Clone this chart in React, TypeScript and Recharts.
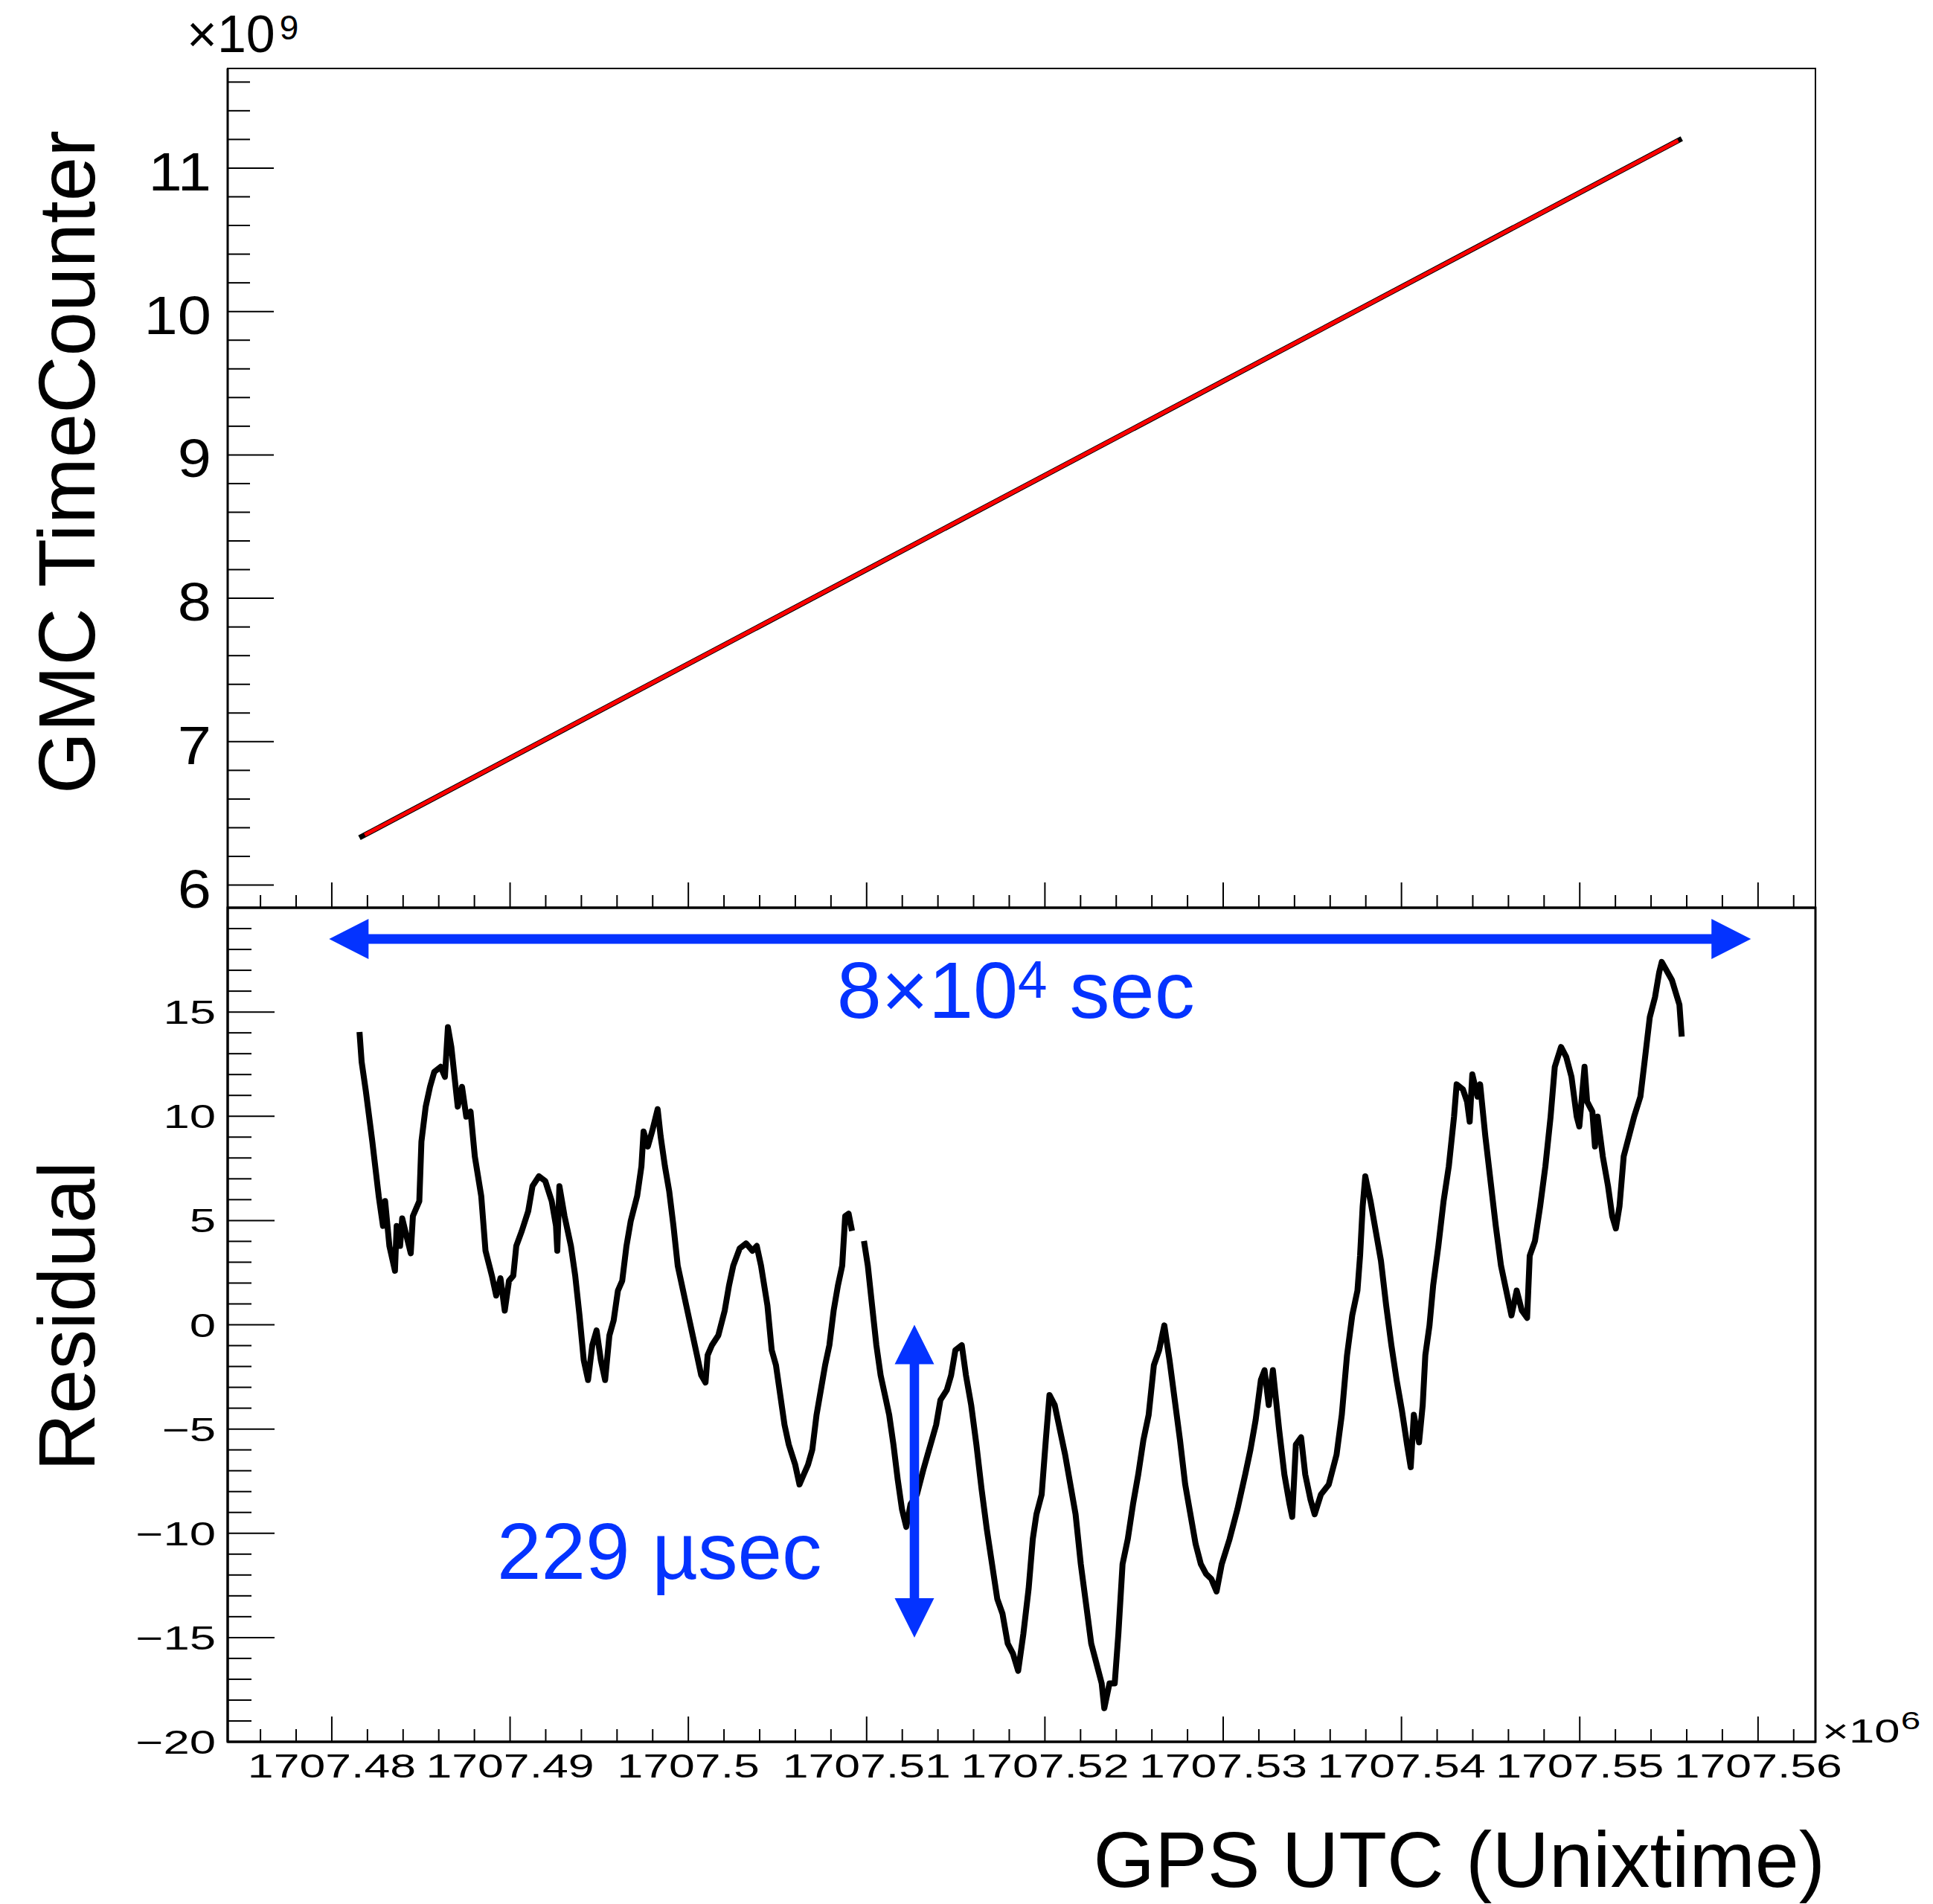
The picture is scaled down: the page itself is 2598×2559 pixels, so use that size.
// GMC TimeCounter vs GPS UTC の上下2段グラフ (Recharts)
import React from 'react';
import { LineChart, Line, XAxis, YAxis, ReferenceArea, ReferenceLine } from 'recharts';

const W = 2598;
const H = 2559;
const FONT = '"Liberation Sans", Arial, Helvetica, sans-serif';
const BLUE = '#0433ff';

// 時刻の基準 (Unixtime, 秒)
const T0 = 1707480000;

// 上段: カウンタ値 (黒) とフィット直線 (赤)
const counterSec = [1550, 75720];
const counterVal = [6.33e9, 11.205e9];
const fitSec = [1850, 75520];
const fitVal = [6.35e9, 11.192e9];

// 下段: 残差 (null はデータの欠け)
const residualSec = [
  1554, 1674, 1914, 2273, 2632, 2872, 2992, 3231, 3543, 3639, 3830, 3950, 4190, 4429, 4549, 4909,
  5028, 5268, 5508, 5747, 6107, 6346, 6514, 6706, 7065, 7305, 7544, 7784, 8023, 8383, 8622, 8982,
  9221, 9461, 9701, 9940, 10180, 10348, 10659, 11018, 11258, 11617, 11977, 12336, 12576, 12648,
  12767, 13055, 13414, 13654, 13894, 14133, 14373, 14612, 14852, 15092, 15331, 15571, 15810, 16050,
  16290, 16529, 16769, 17128, 17368, 17488, 17727, 17967, 18278, 18446, 18686, 18925, 19165, 19404,
  19644, 19884, 20123, 20483, 20722, 20962, 21082, 21321, 21681, 22040, 22280, 22519, 22879, 23238,
  23597, 23837, 24077, 24436, 24676, 24915, 25155, 25394, 25634, 25993, 26233, 26473, 26712, 26952,
  27191, 27431, 27671, 27910, 28150, 28389, 28629, 28797, 28988, 29180, 29500, 29851, 30067, 30306,
  30546, 30785, 31025, 31265, 31504, 31744, 31983, 32223, 32463, 32822, 33181, 33421, 33661, 33900,
  34140, 34499, 34739, 34978, 35338, 35571, 35864, 36157, 36450, 36742, 37035, 37328, 37621, 37914,
  38206, 38499, 38792, 39085, 39319, 39524, 39817, 40051, 40256, 40549, 40842, 41134, 41427, 41720,
  42013, 42306, 42598, 42891, 43184, 43330, 43623, 43916, 44121, 44355, 44648, 44941, 45234, 45526,
  45819, 46112, 46405, 46698, 46990, 47283, 47576, 47869, 48162, 48454, 48747, 49040, 49333, 49626,
  49918, 50358, 50797, 51236, 51529, 51822, 52114, 52319, 52554, 52788, 53139, 53432, 53725, 53871,
  54076, 54369, 54603, 54896, 55130, 55482, 55921, 56360, 56653, 56946, 57238, 57531, 57678, 57824,
  57970, 58263, 58556, 58849, 59142, 59434, 59727, 60020, 60313, 60518, 60693, 60986, 61191, 61338,
  61572, 61777, 62070, 62362, 62655, 62948, 63094, 63446, 63680, 63826, 63973, 64266, 64412, 64705,
  64998, 65290, 65583, 65876, 66169, 66462, 66754, 67047, 67194, 67487, 67779, 68072, 68365, 68599,
  68950, 69243, 69536, 69829, 69975, 70268, 70414, 70707, 70854, 71000, 71293, 71586, 71820, 72025,
  72230, 72464, 72757, 73050, 73401, 73635, 73928, 74221, 74455, 74600, 75170, 75590, 75720,
];
const residualVal: (number | null)[] = [
  14.04, 12.61, 11.18, 8.79, 6.17, 4.74, 5.93, 3.78, 2.59, 4.74, 3.78, 5.1, 4.26, 3.43, 5.21, 5.93,
  8.79, 10.46, 11.41, 12.13, 12.37, 11.89, 14.27, 13.32, 10.46, 11.41, 9.98, 10.22, 8.07, 6.17, 3.55, 2.35,
  1.4, 2.23, 0.68, 2.11, 2.35, 3.78, 4.5, 5.45, 6.65, 7.12, 6.89, 5.93, 4.74, 3.55,
  6.65, 5.21, 3.78, 2.35, 0.45, -1.7, -2.65, -0.98, -0.27, -1.7, -2.65, -0.51, 0.21, 1.64,
  2.11, 3.78, 4.98, 6.17, 7.6, 9.27, 8.55, 9.27, 10.34, 9.03, 7.6, 6.41, 4.74, 2.83,
  1.88, 0.92, -0.03, -1.46, -2.42, -2.77, -1.46, -0.98, -0.51, 0.68, 1.88, 2.83, 3.66, 3.9,
  3.55, 3.78, 2.83, 0.92, -1.22, -1.94, -3.37, -4.8, -5.75, -6.71, -7.66, -7.18, -6.71, -5.99,
  -4.32, -3.13, -1.94, -0.98, 0.68, 1.88, 2.83, 5.21, 5.33, 4.5, null, 4.02, 2.83, 0.92,
  -0.98, -2.42, -3.37, -4.32, -5.75, -7.42, -8.85, -9.69, -8.61, -8.14, -6.95, -6.23, -5.52, -4.8,
  -3.61, -3.13, -2.42, -1.22, -0.98, -2.42, -3.85, -5.75, -7.9, -9.81, -11.48, -13.15, -13.86, -15.29,
  -15.77, -16.6, -14.82, -12.67, -10.28, -9.09, -8.14, -5.52, -3.37, -3.85, -5.04, -6.23, -7.66, -9.09,
  -11.48, -13.38, -15.29, -16.24, -17.2, -18.39, -17.2, -17.2, -14.82, -11.48, -10.28, -8.61, -7.18, -5.52,
  -4.32, -1.94, -1.22, -0.03, -1.7, -3.61, -5.52, -7.66, -9.09, -10.52, -11.48, -11.95, -12.19, -12.79,
  -11.48, -10.28, -8.85, -7.18, -5.99, -4.56, -2.65, -2.18, -3.85, -2.18, -5.04, -7.18, -8.61, -9.21,
  -5.75, -5.4, -7.18, -8.38, -9.09, -8.14, -7.66, -6.23, -4.32, -1.46, 0.45, 1.64, 3.31, 5.69,
  7.12, 5.93, 4.5, 3.07, 0.92, -0.98, -2.65, -4.08, -5.75, -6.83, -4.32, -5.64, -3.85, -1.46,
  -0.03, 1.88, 3.78, 5.93, 7.6, 9.98, 11.53, 11.29, 10.7, 9.74, 12.01, 10.94, 11.53, 9.03,
  6.88, 4.74, 2.83, 1.64, 0.45, 1.64, 0.68, 0.33, 3.31, 4.02, 5.69, 7.6, 9.98, 12.37,
  13.32, 12.84, 11.89, 9.98, 9.51, 12.37, 10.7, 10.22, 8.55, 9.98, 8.07, 6.65, 5.21, 4.62,
  5.69, 8.07, 9.03, 9.98, 10.94, 12.61, 14.75, 15.71, 16.9, 17.4, 16.53, 15.35, 13.82,
];

// 注釈の矢印 (8×10^4 sec と 229 µsec)
const spanArrowSec = [-150, 79600];
const spanArrowVal = 18.5;
const jitterArrowSec = 32680;
const jitterArrowVal = [0, -15];

// 軸の範囲と目盛り
const xDomain = [1707474160, 1707563220];
const topYDomain = [5.842e9, 11.695e9];
const botYDomain = [-20, 20];

const xMajorTicks = [
  1707480000, 1707490000, 1707500000, 1707510000, 1707520000,
  1707530000, 1707540000, 1707550000, 1707560000,
];
const xTickLabels = [
  '1707.48', '1707.49', '1707.5', '1707.51', '1707.52',
  '1707.53', '1707.54', '1707.55', '1707.56',
];
const topYMajorTicks = [6e9, 7e9, 8e9, 9e9, 10e9, 11e9];
const topYTickLabels = ['6', '7', '8', '9', '10', '11'];
const botYMajorTicks = [-20, -15, -10, -5, 0, 5, 10, 15];
const botYTickLabels = ['\u221220', '\u221215', '\u221210', '\u22125', '0', '5', '10', '15'];

// 副目盛り (主目盛りの間を5分割)
const xMinorTicks: number[] = [];
for (let t = 1707476000; t <= 1707562000; t += 2000) {
  if (!xMajorTicks.includes(t)) xMinorTicks.push(t);
}
const topYMinorTicks: number[] = [];
for (let k = 31; k <= 58; k++) {
  if (k % 5 !== 0) topYMinorTicks.push(k * 0.2e9);
}
const botYMinorTicks: number[] = [];
for (let k = -19; k <= 19; k++) {
  if (k % 5 !== 0) botYMinorTicks.push(k);
}

const counterData = counterSec.map((s, i) => ({ t: T0 + s, v: counterVal[i] }));
const fitData = fitSec.map((s, i) => ({ t: T0 + s, v: fitVal[i] }));
const residualData = residualSec.map((s, i) => ({ t: T0 + s, v: residualVal[i] }));

// x軸の目盛り (内向き) とラベル
const makeXTick = (showLabel: boolean) => (props: any) => {
  const { x, y, payload } = props;
  const idx = xMajorTicks.indexOf(payload.value);
  const len = idx >= 0 ? 34 : 17;
  return (
    <g>
      <line x1={x} y1={y} x2={x} y2={y - len} stroke="#000" strokeWidth={2} />
      {showLabel && idx >= 0 && (
        <text
          transform={`translate(${x},${y + 48}) scale(1.4,1)`}
          textAnchor="middle"
          fontSize={44.7}
          fontFamily={FONT}
          fill="#000"
        >
          {xTickLabels[idx]}
        </text>
      )}
    </g>
  );
};

// y軸の目盛り (内向き) とラベル
const makeYTick = (
  majors: number[], labels: string[], majorLen: number, minorLen: number,
  fontSize: number, scaleX: number, gap: number, dy: number,
) => (props: any) => {
  const { x, y, payload } = props;
  const idx = majors.indexOf(payload.value);
  const len = idx >= 0 ? majorLen : minorLen;
  return (
    <g>
      <line x1={x} y1={y} x2={x + len} y2={y} stroke="#000" strokeWidth={2} />
      {idx >= 0 && (
        <text
          transform={`translate(${x - gap},${y + dy}) scale(${scaleX},1)`}
          textAnchor="end"
          fontSize={fontSize}
          fontFamily={FONT}
          fill="#000"
        >
          {labels[idx]}
        </text>
      )}
    </g>
  );
};

// 両矢印の多角形
function arrowPoints(x1: number, y1: number, x2: number, y2: number, head: number, headW: number, shaft: number) {
  const L = Math.hypot(x2 - x1, y2 - y1);
  const ux = (x2 - x1) / L;
  const uy = (y2 - y1) / L;
  const nx = -uy;
  const ny = ux;
  const p = (bx: number, by: number, a: number, b: number) => [bx + ux * a + nx * b, by + uy * a + ny * b];
  const pts = [
    [x1, y1],
    p(x1, y1, head, headW / 2),
    p(x1, y1, head, shaft / 2),
    p(x2, y2, -head, shaft / 2),
    p(x2, y2, -head, headW / 2),
    [x2, y2],
    p(x2, y2, -head, -headW / 2),
    p(x2, y2, -head, -shaft / 2),
    p(x1, y1, head, -shaft / 2),
    p(x1, y1, head, -headW / 2),
  ];
  return pts.map((q) => q.join(',')).join(' ');
}

const SpanArrow = (props: any) => {
  const { x1, y1, x2, y2 } = props;
  const mid = (x1 + x2) / 2;
  return (
    <g>
      <polygon points={arrowPoints(x1, y1, x2, y2, 53, 54, 13)} fill={BLUE} />
      <text x={mid - 273} y={y1 + 106} fontSize={108} fontFamily={FONT} fill={BLUE}>
        8×10
        <tspan fontSize={71} dy={-27}>4</tspan>
        <tspan fontSize={108} dy={27}> sec</tspan>
      </text>
    </g>
  );
};

const JitterArrow = (props: any) => {
  const { x1, y1, x2, y2 } = props;
  const mid = (y1 + y2) / 2;
  return (
    <g>
      <polygon points={arrowPoints(x1, y1, x2, y2, 53, 53, 12.6)} fill={BLUE} />
      <text x={x1 - 561} y={mid + 131} fontSize={107} fontFamily={FONT} fill={BLUE}>
        229 µsec
      </text>
    </g>
  );
};

const axisLineStyle = { stroke: '#000', strokeWidth: 3 };

export default function App() {
  return (
    <div style={{ position: 'absolute', left: 0, top: 0, width: W, height: H, background: '#fff' }}>
      {/* 上段: GMC TimeCounter */}
      <div style={{ position: 'absolute', left: 0, top: 0 }}>
        <LineChart width={W} height={H} margin={{ top: 92, right: 158, bottom: H - 1221, left: 305 }}>
          <ReferenceArea
            x1={xDomain[0]} x2={xDomain[1]} y1={topYDomain[0]} y2={topYDomain[1]}
            fill="none" fillOpacity={0} stroke="#000" strokeWidth={2} ifOverflow="visible"
          />
          <XAxis
            dataKey="t" type="number" domain={xDomain} allowDataOverflow
            ticks={[...xMajorTicks, ...xMinorTicks]} interval={0}
            height={1} tickSize={0} tickMargin={0} tickLine={false}
            axisLine={axisLineStyle}
            tick={makeXTick(false)}
          />
          <YAxis
            dataKey="v" type="number" domain={topYDomain} allowDataOverflow
            ticks={[...topYMajorTicks, ...topYMinorTicks]} interval={0}
            width={1} tickSize={0} tickMargin={0} tickLine={false}
            axisLine={axisLineStyle}
            tick={makeYTick(topYMajorTicks, topYTickLabels, 62, 30, 72.6, 1.12, 22, 30)}
          />
          <Line
            data={counterData} dataKey="v" type="linear" stroke="#000" strokeWidth={7}
            dot={false} activeDot={false} isAnimationActive={false}
          />
          <Line
            data={fitData} dataKey="v" type="linear" stroke="#ff0000" strokeWidth={5}
            dot={false} activeDot={false} isAnimationActive={false}
          />
        </LineChart>
      </div>

      {/* 下段: Residual */}
      <div style={{ position: 'absolute', left: 0, top: 0 }}>
        <LineChart width={W} height={H} margin={{ top: 1220, right: 158, bottom: H - 2342, left: 305 }}>
          <ReferenceArea
            x1={xDomain[0]} x2={xDomain[1]} y1={botYDomain[0]} y2={botYDomain[1]}
            fill="none" fillOpacity={0} stroke="#000" strokeWidth={3} ifOverflow="visible"
          />
          <XAxis
            dataKey="t" type="number" domain={xDomain} allowDataOverflow
            ticks={[...xMajorTicks, ...xMinorTicks]} interval={0}
            height={1} tickSize={0} tickMargin={0} tickLine={false}
            axisLine={axisLineStyle}
            tick={makeXTick(true)}
          />
          <YAxis
            dataKey="v" type="number" domain={botYDomain} allowDataOverflow
            ticks={[...botYMajorTicks, ...botYMinorTicks]} interval={0}
            width={1} tickSize={0} tickMargin={0} tickLine={false}
            axisLine={axisLineStyle}
            tick={makeYTick(botYMajorTicks, botYTickLabels, 63, 32, 44.7, 1.42, 16, 16)}
          />
          <Line
            data={residualData} dataKey="v" type="linear" stroke="#000" strokeWidth={8}
            strokeLinejoin="round" dot={false} activeDot={false} isAnimationActive={false}
          />
          <ReferenceLine
            segment={[{ x: T0 + spanArrowSec[0], y: spanArrowVal }, { x: T0 + spanArrowSec[1], y: spanArrowVal }]}
            shape={SpanArrow} ifOverflow="visible"
          />
          <ReferenceLine
            segment={[{ x: T0 + jitterArrowSec, y: jitterArrowVal[0] }, { x: T0 + jitterArrowSec, y: jitterArrowVal[1] }]}
            shape={JitterArrow} ifOverflow="visible"
          />
        </LineChart>
      </div>

      {/* 軸タイトルと指数表記 */}
      <svg width={W} height={H} style={{ position: 'absolute', left: 0, top: 0, pointerEvents: 'none' }}>
        <text x={251} y={70} fontSize={70} fontFamily={FONT} fill="#000">
          ×10
          <tspan fontSize={46} dx={6} dy={-17}>9</tspan>
        </text>
        <text transform="translate(2449,2342) scale(1.4,1)" fontSize={44} fontFamily={FONT} fill="#000">
          ×10
          <tspan fontSize={34} dx={1} dy={-18}>6</tspan>
        </text>
        <text x={2453} y={2536} textAnchor="end" fontSize={106} fontFamily={FONT} fill="#000">
          GPS UTC (Unixtime)
        </text>
        <text transform="translate(127,621) rotate(-90)" textAnchor="middle" fontSize={107} fontFamily={FONT} fill="#000">
          GMC TimeCounter
        </text>
        <text transform="translate(127,1769) rotate(-90)" textAnchor="middle" fontSize={107} fontFamily={FONT} fill="#000">
          Residual
        </text>
      </svg>
    </div>
  );
}
